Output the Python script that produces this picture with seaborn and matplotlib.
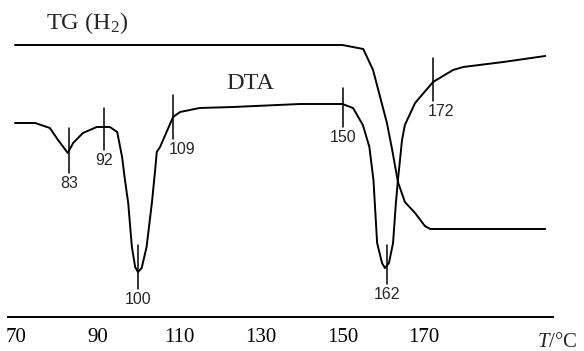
import pandas as pd
import numpy as np
import seaborn as sns
import matplotlib.pyplot as plt

sns.set_style('white')
plt.rcParams['font.family'] = ['Liberation Serif', 'DejaVu Serif']
plt.rcParams['mathtext.fontset'] = 'custom'
plt.rcParams['mathtext.rm'] = 'Liberation Serif'
plt.rcParams['mathtext.it'] = 'Liberation Serif:italic'

# DTA curve (temperature, signal in arbitrary units)
dta_t = [69.75, 74.7, 78.3, 80.3, 82.7, 84.0, 86.4, 89.8, 93.0, 94.8, 96.0, 96.7,
         97.5, 98.4, 99.2, 99.9, 100.8, 102.0, 103.3, 104.1, 104.5, 105.3, 108.5,
         110.2, 115.0, 123.2, 139.6, 150.0, 152.6, 155.0, 156.6, 157.6, 158.5,
         159.7, 160.4, 161.4, 162.4, 163.1, 163.6, 164.6, 165.3, 167.8, 172.2,
         177.1, 179.6, 189.4, 199.7]
dta_px = [123, 123, 128, 140, 153, 143, 133, 127, 127, 132, 157, 180,
          203, 247, 267, 272, 268, 247, 203, 170, 152, 147, 117,
          112, 108, 107, 104, 104, 108, 125, 147, 180, 243,
          263, 268, 263, 243, 203, 180, 140, 125, 103, 82,
          70, 67, 62, 56]

# TG curve
tg_t = [69.75, 150.0, 155.1, 157.5, 160.9, 162.2, 163.6, 165.3, 167.8, 170.2, 171.5, 199.7]
tg_px = [45, 45, 49, 70, 123, 150, 182, 202, 213, 226, 229, 229]

# peak markers
mark_t = [83, 91.6, 108.5, 99.9, 150.2, 172.2, 160.8]
mark_lo = [173, 150, 139, 289, 127, 101, 284]
mark_hi = [128, 108, 95, 245, 88, 58, 245]
mark_lab = ['83', '92', '109', '100', '150', '172', '162']
mark_dx = [0, 0, 2.1, 0, 0, 2.0, 0]

xticks = [70, 90, 110, 130, 150, 170, 190]
xlabels = ['70', '90', '110', '130', '150', '170', '']

H = 317  # axis line in pixel rows
dta = pd.DataFrame({'T': dta_t, 'y': [H - v for v in dta_px]})
tg = pd.DataFrame({'T': tg_t, 'y': [H - v for v in tg_px]})

fig = plt.figure(figsize=(5.84, 3.51), dpi=100)
ax = fig.add_axes([8 / 584, 34 / 351, 545 / 584, 317 / 351])

sns.lineplot(data=dta, x='T', y='y', ax=ax, color='black', linewidth=1.4, sort=False)
sns.lineplot(data=tg, x='T', y='y', ax=ax, color='black', linewidth=1.4, sort=False)

for t, lo, hi, lab, dx in zip(mark_t, mark_lo, mark_hi, mark_lab, mark_dx):
    ax.plot([t, t], [H - lo, H - hi], color='black', linewidth=1.1)
    ax.text(t + dx, H - lo - 3, lab, ha='center', va='top', fontsize=11.5,
            family=['Liberation Sans', 'DejaVu Sans'])

ax.text(87.4, H - 29, 'TG (H$_2$)', fontsize=17.5, ha='center', va='baseline')
ax.text(127.4, H - 89, 'DTA', fontsize=17.5, ha='center', va='baseline')
ax.text(202.6, H - 347, '$T$/°C', fontsize=15, ha='center', va='baseline', clip_on=False)

ax.set_xlim(68.04, 201.6)
ax.set_ylim(0, H)
ax.set_xticks(xticks)
ax.set_xticklabels(xlabels, fontsize=15)
ax.set_yticks([])
ax.set_xlabel('')
ax.set_ylabel('')
for s in ['top', 'left', 'right']:
    ax.spines[s].set_visible(False)
ax.spines['bottom'].set_linewidth(1.4)
ax.spines['bottom'].set_color('black')
ax.tick_params(axis='x', direction='in', length=8, width=1.1, pad=8, colors='black')

fig.savefig('out.png', dpi=100)
